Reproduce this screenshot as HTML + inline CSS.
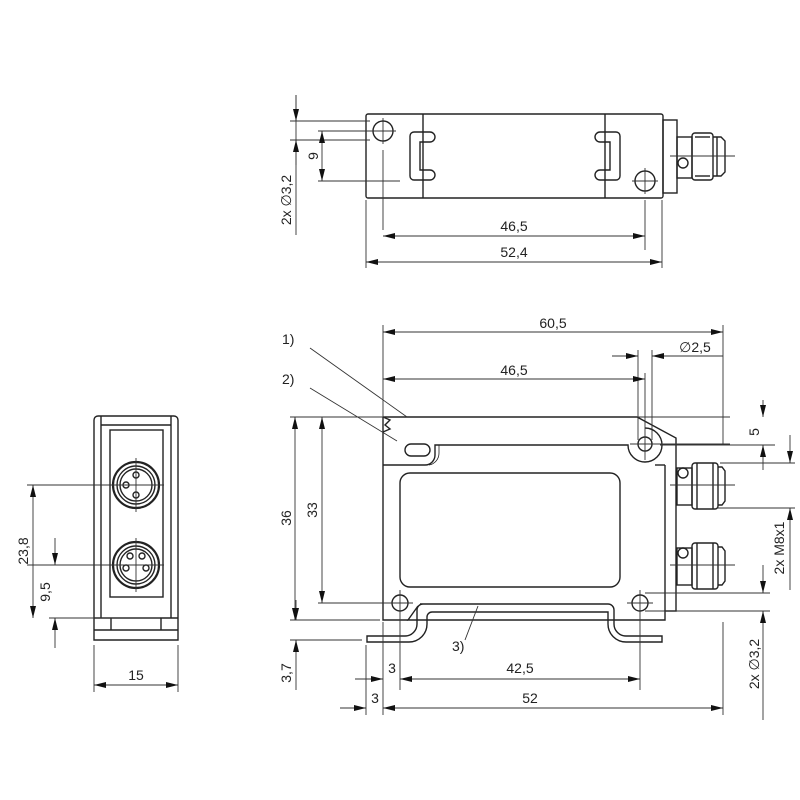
<!DOCTYPE html>
<html><head><meta charset="utf-8"><style>html,body{margin:0;padding:0;background:#fff}svg{display:block}text{font-family:"Liberation Sans",sans-serif;font-size:14px;fill:#222}</style></head><body>
<svg width="800" height="800" viewBox="0 0 800 800" xmlns="http://www.w3.org/2000/svg">
<defs>
<marker id="a" viewBox="0 0 12 6" refX="12" refY="3" markerWidth="13" markerHeight="6" orient="auto-start-reverse" markerUnits="userSpaceOnUse"><path d="M0,0L12,3L0,6z" fill="#111"/></marker>
</defs>
<g fill="none" stroke="#222" stroke-width="1.4">
<!-- TOP VIEW -->
<rect x="366" y="114" width="297" height="84" rx="2"/>
<line x1="423" y1="114" x2="423" y2="198"/><line x1="605" y1="114" x2="605" y2="198"/>
<path d="M430,132 H414 a4,4 0 0 0 -4,4 V176 a4,4 0 0 0 4,4 H430 a5,5 0 0 0 0,-10 H420 V142 H430 a5,5 0 0 0 0,-10 Z"/>
<path d="M600,132 H616 a4,4 0 0 1 4,4 V176 a4,4 0 0 1 -4,4 H600 a5,5 0 0 1 0,-10 H610 V142 H600 a5,5 0 0 1 0,-10 Z"/>
<circle cx="383" cy="131" r="10"/><circle cx="645" cy="181" r="10"/>
<rect x="663" y="120" width="14" height="73"/>
<rect x="677" y="137" width="15" height="41"/>
<rect x="692" y="133" width="21" height="47" rx="3"/>
<line x1="695" y1="137" x2="710" y2="137"/><line x1="695" y1="176" x2="710" y2="176"/>
<path d="M713,137 h8 l4,4 v31 l-4,4 h-8"/>
<line x1="717" y1="137" x2="717" y2="176"/>
<circle cx="683" cy="163" r="5"/>
<!-- FRONT VIEW body -->
<path d="M383,417 H637 L676,438 V611 H665 V620 H408 L418,606"/>
<path d="M383,417 V620 H408"/>
<path d="M383,417 l7,3 l-5,5 l5,4 l-7,3"/>
<path d="M383,465 H425 a10,10 0 0 0 10,-10 V445 H628 a17,17 0 0 0 34,0 a17,17 0 0 0 -17,-17"/>
<path d="M429,465 a12,12 0 0 0 10,-12 V445" stroke-width="0.8"/>
<line x1="665" y1="465" x2="665" y2="611"/><line x1="655" y1="465" x2="665" y2="465"/>
<rect x="405" y="444" width="25" height="12" rx="6"/>
<rect x="400" y="473" width="220" height="114" rx="10"/>
<circle cx="645" cy="444" r="7"/><circle cx="400" cy="603" r="8"/><circle cx="640" cy="603" r="8"/>
<!-- bracket -->
<path d="M420,604 H608 a6,6 0 0 1 6,6 V624 a12,12 0 0 0 12,12 H662 V642 H626 a18,18 0 0 1 -18,-18 V612 H432 a5,5 0 0 0 -5,5 V624 a18,18 0 0 1 -18,18 H367 V636 H405 a12,12 0 0 0 12,-12 V610 a6,6 0 0 1 6,-6"/>
<!-- front connectors -->
<g id="c"><rect x="677" y="468" width="15" height="37"/><rect x="692" y="463" width="26" height="46" rx="3"/><line x1="697" y1="463" x2="697" y2="509"/><line x1="713" y1="463" x2="713" y2="509"/><path d="M718,467 h4 l3,4 v30 l-3,4 h-4"/><circle cx="683" cy="473" r="5"/></g>
<use href="#c" y="80"/>
<!-- SIDE VIEW -->
<path d="M94,640 V420 a4,4 0 0 1 4,-4 H174 a4,4 0 0 1 4,4 V640 Z"/>
<line x1="101" y1="416" x2="101" y2="618"/><line x1="171" y1="416" x2="171" y2="618"/>
<line x1="101" y1="425" x2="171" y2="425"/>
<rect x="110" y="430" width="53" height="167"/>
<line x1="94" y1="618" x2="178" y2="618"/><line x1="94" y1="630" x2="178" y2="630"/>
<line x1="111" y1="618" x2="111" y2="630"/><line x1="161" y1="618" x2="161" y2="630"/>
<circle cx="136" cy="485" r="23" stroke-width="2.2"/><circle cx="136" cy="485" r="19"/><circle cx="136" cy="485" r="16"/>
<circle cx="136" cy="565" r="23" stroke-width="2.2"/><circle cx="136" cy="565" r="19"/><circle cx="136" cy="565" r="16"/>
<circle cx="136" cy="475" r="3"/><circle cx="126" cy="485" r="3"/><circle cx="136" cy="495" r="3"/>
<circle cx="130" cy="556" r="3"/><circle cx="142" cy="556" r="3"/><circle cx="126" cy="568" r="3"/><circle cx="146" cy="568" r="3"/>
</g>
<g fill="none" stroke="#333" stroke-width="0.9">
<path d="M383,118 V144 M370,131 H396 M645,168 V194 M632,181 H658 M670,156 H735 M383,150 V230 M645,200 V250"/>
<path d="M645,373 V460 M630,444 H730 M400,590 V690 M387,603 H413 M640,590 V690 M627,603 H653 M670,485 H735 M670,565 H735"/>
<path d="M136,458 V512 M108,485 H164 M136,538 V592 M108,565 H164"/>
<path d="M296,95 V235 M290,121 H370 M290,140 H370 M318,131 H380 M318,181 H400 M366,200 V268 M662,200 V268"/>
<path d="M383,236 H645" marker-start="url(#a)" marker-end="url(#a)"/>
<path d="M366,262 H662" marker-start="url(#a)" marker-end="url(#a)"/>
<path d="M322,131 V181" marker-start="url(#a)" marker-end="url(#a)"/>
<path d="M296,95 V121" marker-end="url(#a)"/><path d="M296,165 V140" marker-end="url(#a)"/>
<path d="M383,325 V417 M723,325 V445 M638,350 V440 M652,350 V440 M637,417 H730 M660,445 H775 M720,463 H795 M717,508 H795 M645,593 H770 M645,611 H770"/>
<path d="M383,332 H723" marker-start="url(#a)" marker-end="url(#a)"/>
<path d="M383,379 H645" marker-start="url(#a)" marker-end="url(#a)"/>
<path d="M612,356 H638" marker-end="url(#a)"/><path d="M723,356 H652" marker-end="url(#a)"/>
<path d="M763,400 V417" marker-end="url(#a)"/><path d="M763,470 V445" marker-end="url(#a)"/>
<path d="M790,435 V463" marker-end="url(#a)"/><path d="M790,590 V508" marker-end="url(#a)"/>
<path d="M763,565 V593" marker-end="url(#a)"/><path d="M763,720 V611" marker-end="url(#a)"/>
<path d="M290,417 H385 M318,603 H390 M290,620 H380 M290,640 H362 M366,645 V715 M383,622 V715 M723,622 V715"/>
<path d="M295,417 V620" marker-start="url(#a)" marker-end="url(#a)"/>
<path d="M322,417 V603" marker-start="url(#a)" marker-end="url(#a)"/>
<path d="M296,600 V620" marker-end="url(#a)"/><path d="M296,690 V640" marker-end="url(#a)"/>
<path d="M355,679 H383" marker-end="url(#a)"/><path d="M400,679 H640" marker-start="url(#a)" marker-end="url(#a)"/>
<path d="M340,708 H366" marker-end="url(#a)"/><path d="M383,708 H723" marker-start="url(#a)" marker-end="url(#a)"/>
<path d="M310,348 L407,417 M310,388 L397,441 M465,640 L478,606"/>
<path d="M27,485 H160 M49,618 H160 M27,565 H160 M94,645 V692 M178,645 V692"/>
<path d="M33,485 V618" marker-start="url(#a)" marker-end="url(#a)"/>
<path d="M55,538 V565" marker-end="url(#a)"/><path d="M55,648 V618" marker-end="url(#a)"/>
<path d="M94,685 H178" marker-start="url(#a)" marker-end="url(#a)"/>
</g>
<text x="514" y="231" text-anchor="middle">46,5</text>
<text x="514" y="257" text-anchor="middle">52,4</text>
<text transform="translate(318,156) rotate(-90)" text-anchor="middle">9</text>
<text transform="translate(291,200) rotate(-90)" text-anchor="middle">2x ∅3,2</text>
<text x="553" y="328" text-anchor="middle">60,5</text>
<text x="695" y="352" text-anchor="middle">∅2,5</text>
<text x="514" y="375" text-anchor="middle">46,5</text>
<text x="282" y="344">1)</text><text x="282" y="384">2)</text><text x="452" y="651">3)</text>
<text transform="translate(759,432) rotate(-90)" text-anchor="middle">5</text>
<text transform="translate(784,548) rotate(-90)" text-anchor="middle">2x M8x1</text>
<text transform="translate(759,664) rotate(-90)" text-anchor="middle">2x ∅3,2</text>
<text transform="translate(291,518) rotate(-90)" text-anchor="middle">36</text>
<text transform="translate(317,510) rotate(-90)" text-anchor="middle">33</text>
<text transform="translate(291,673) rotate(-90)" text-anchor="middle">3,7</text>
<text x="392" y="673" text-anchor="middle">3</text>
<text x="520" y="673" text-anchor="middle">42,5</text>
<text x="375" y="703" text-anchor="middle">3</text>
<text x="530" y="703" text-anchor="middle">52</text>
<text transform="translate(28,551) rotate(-90)" text-anchor="middle">23,8</text>
<text transform="translate(50,592) rotate(-90)" text-anchor="middle">9,5</text>
<text x="136" y="680" text-anchor="middle">15</text>
</svg>
</body></html>
